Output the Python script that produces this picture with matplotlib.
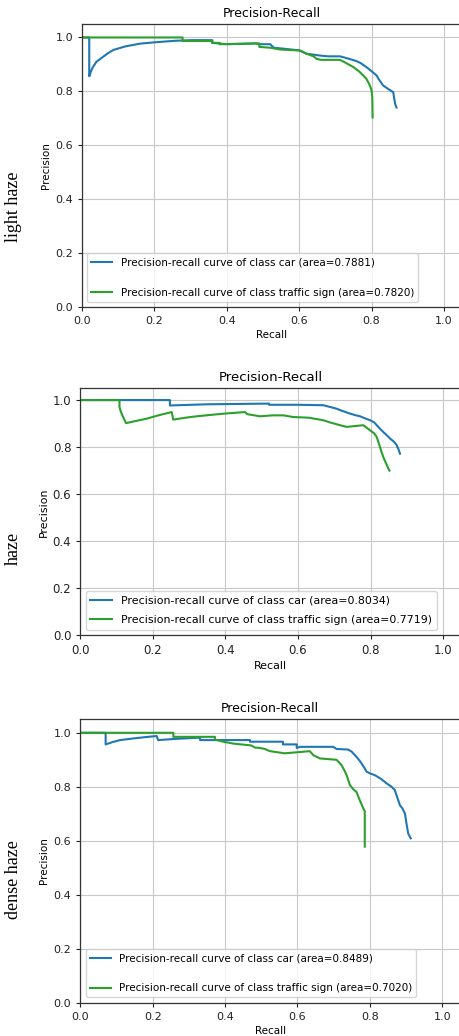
import matplotlib
matplotlib.use("Agg")
import matplotlib.pyplot as plt

# ---------------- data ----------------
conditions = ["light haze", "haze", "dense haze"]
classes = ["car", "traffic sign"]
areas_car = [0.7881, 0.8034, 0.8489]
areas_sign = [0.7820, 0.7719, 0.7020]

car_light_r = [0, 0.02, 0.02, 0.025, 0.03, 0.04, 0.05, 0.07, 0.087, 0.12, 0.16, 0.2, 0.26, 0.3, 0.36, 0.36,
               0.4, 0.48, 0.49, 0.52, 0.53, 0.56, 0.58, 0.602, 0.62, 0.657, 0.68, 0.713, 0.74, 0.759, 0.77,
               0.786, 0.8, 0.814, 0.82, 0.832, 0.845, 0.86, 0.862, 0.865, 0.869]
car_light_p = [1.0, 1.0, 0.856, 0.875, 0.89, 0.91, 0.92, 0.94, 0.954, 0.967, 0.977, 0.982, 0.988, 0.99, 0.99, 0.98,
               0.975, 0.978, 0.975, 0.975, 0.962, 0.958, 0.955, 0.952, 0.94, 0.933, 0.93, 0.93, 0.92, 0.912, 0.905,
               0.89, 0.875, 0.859, 0.845, 0.822, 0.81, 0.797, 0.78, 0.755, 0.74]

sign_light_r = [0, 0.278, 0.278, 0.36, 0.36, 0.38, 0.38, 0.49, 0.49, 0.52, 0.55, 0.6, 0.62, 0.64, 0.648,
                0.66, 0.713, 0.73, 0.75, 0.765, 0.777, 0.785, 0.791, 0.796, 0.8, 0.802, 0.803]
sign_light_p = [1.0, 1.0, 0.987, 0.987, 0.98, 0.98, 0.975, 0.978, 0.965, 0.962, 0.955, 0.952, 0.94, 0.93, 0.921,
                0.917, 0.917, 0.905, 0.89, 0.875, 0.859, 0.848, 0.834, 0.82, 0.804, 0.78, 0.703]

car_haze_r = [0, 0.247, 0.247, 0.35, 0.52, 0.52, 0.6, 0.67, 0.69, 0.707, 0.72, 0.744, 0.76, 0.771, 0.785,
              0.799, 0.81, 0.817, 0.825, 0.835, 0.845, 0.854, 0.865, 0.872, 0.877, 0.881]
car_haze_p = [1.0, 1.0, 0.977, 0.982, 0.985, 0.98, 0.98, 0.978, 0.97, 0.963, 0.955, 0.942, 0.935, 0.931, 0.922,
              0.914, 0.905, 0.893, 0.88, 0.864, 0.85, 0.836, 0.822, 0.808, 0.79, 0.772]

sign_haze_r = [0, 0.108, 0.108, 0.112, 0.118, 0.122, 0.126, 0.15, 0.183, 0.22, 0.252, 0.256, 0.29, 0.321,
               0.36, 0.394, 0.454, 0.46, 0.48, 0.495, 0.53, 0.56, 0.586, 0.63, 0.67, 0.688, 0.716, 0.734,
               0.78, 0.799, 0.81, 0.817, 0.826, 0.83, 0.835, 0.84, 0.849, 0.852]
sign_haze_p = [1.0, 1.0, 0.97, 0.949, 0.928, 0.915, 0.902, 0.91, 0.921, 0.937, 0.949, 0.917, 0.925, 0.931,
               0.937, 0.942, 0.949, 0.94, 0.935, 0.931, 0.935, 0.935, 0.928, 0.925, 0.914, 0.905, 0.893, 0.886,
               0.893, 0.871, 0.858, 0.843, 0.8, 0.78, 0.758, 0.74, 0.709, 0.70]

car_dense_r = [0, 0.07, 0.07, 0.09, 0.11, 0.146, 0.18, 0.211, 0.215, 0.27, 0.331, 0.331, 0.404, 0.469, 0.469,
               0.56, 0.56, 0.598, 0.598, 0.607, 0.699, 0.708, 0.74, 0.75, 0.763, 0.77, 0.777, 0.785, 0.791,
               0.8, 0.814, 0.83, 0.846, 0.86, 0.869, 0.876, 0.883, 0.89, 0.897, 0.902, 0.906, 0.913]
car_dense_p = [1.0, 1.0, 0.957, 0.966, 0.973, 0.979, 0.984, 0.988, 0.973, 0.978, 0.982, 0.973, 0.973, 0.973,
               0.967, 0.967, 0.957, 0.957, 0.944, 0.948, 0.948, 0.94, 0.938, 0.93, 0.911, 0.9, 0.887, 0.87,
               0.856, 0.85, 0.843, 0.83, 0.813, 0.8, 0.788, 0.76, 0.732, 0.72, 0.701, 0.658, 0.627, 0.609]

sign_dense_r = [0, 0.257, 0.257, 0.372, 0.372, 0.395, 0.423, 0.473, 0.483, 0.496, 0.51, 0.524, 0.565, 0.6,
                0.634, 0.644, 0.662, 0.708, 0.722, 0.73, 0.736, 0.745, 0.755, 0.763, 0.772, 0.782, 0.786, 0.786]
sign_dense_p = [1.0, 1.0, 0.985, 0.985, 0.975, 0.967, 0.96, 0.953, 0.945, 0.944, 0.94, 0.932, 0.924, 0.928,
                0.932, 0.917, 0.905, 0.9, 0.88, 0.86, 0.843, 0.806, 0.79, 0.781, 0.751, 0.72, 0.71, 0.578]

xticks = [0.0, 0.2, 0.4, 0.6, 0.8, 1.0]
yticks = [0.0, 0.2, 0.4, 0.6, 0.8, 1.0]

# ---------------- figure ----------------
W, H = 459, 1036
fig = plt.figure(figsize=(W / 100, H / 100), dpi=100)
fig.patch.set_facecolor("white")

def frac_rect(left_px, top_px, bottom_px, width_px):
    return [left_px / W, 1 - bottom_px / H, width_px / W, (bottom_px - top_px) / H]

rects = [frac_rect(82, 24, 307, 380),
         frac_rect(80.3, 388.3, 635.3, 381),
         frac_rect(80.3, 719.3, 1002.7, 380)]
scales = [1.0, 1.06, 1.0]
spacings = [1.95, 0.9, 1.9]
label_y = [207, 548, 880]

curves = [(car_light_r, car_light_p, sign_light_r, sign_light_p),
          (car_haze_r, car_haze_p, sign_haze_r, sign_haze_p),
          (car_dense_r, car_dense_p, sign_dense_r, sign_dense_p)]

for i in range(3):
    s = scales[i]
    ax = fig.add_axes(rects[i])
    cr, cp, sr, sp = curves[i]
    ax.plot(cr, cp, color="#1f77b4", lw=1.5,
            label=f"Precision-recall curve of class {classes[0]} (area={areas_car[i]:.4f})")
    ax.plot(sr, sp, color="#2ca02c", lw=1.5,
            label=f"Precision-recall curve of class {classes[1]} (area={areas_sign[i]:.4f})")
    ax.set_xlim(0, 1.05)
    ax.set_ylim(0, 1.05)
    ax.set_xticks(xticks)
    ax.set_yticks(yticks)
    ax.tick_params(labelsize=8 * s, length=3, width=0.8, colors="#222222")
    ax.grid(True, color="#c8c8c8", lw=0.8)
    ax.set_axisbelow(True)
    for sp_ in ax.spines.values():
        sp_.set_color("#333333")
        sp_.set_linewidth(0.9)
    ax.set_xlabel("Recall", fontsize=7.5 * s, labelpad=3)
    ax.set_ylabel("Precision", fontsize=7.5 * s, labelpad=3)
    ax.set_title("Precision-Recall", fontsize=9 * s, pad=5)
    ax.legend(loc="lower left", fontsize=7.5 * s, labelspacing=spacings[i])
    fig.text(13 / W, 1 - label_y[i] / H, conditions[i], rotation=90, ha="center", va="center",
             family="Liberation Serif", fontsize=13)

fig.savefig("out.png", dpi=100)
